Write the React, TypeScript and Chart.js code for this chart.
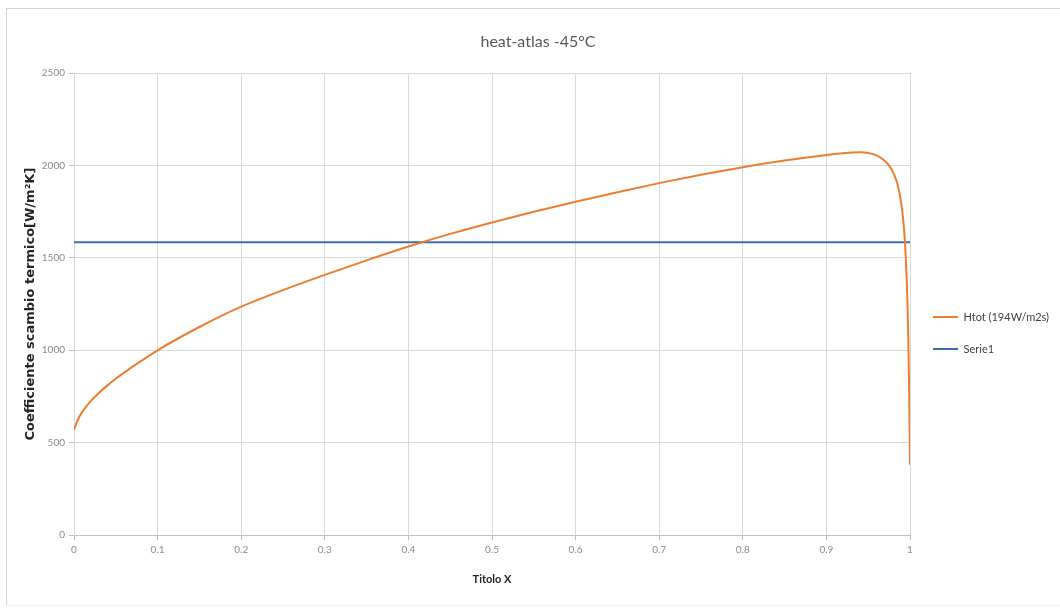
import React, { useEffect, useRef } from "react";
import { Chart, registerables } from "chart.js";

Chart.register(...registerables);

const TITLE = "heat-atlas -45°C";
const X_TITLE = "Titolo X";
const Y_TITLE = "Coefficiente scambio termico[W/m²K]";

const htotLabel = "Htot (194W/m2s)";
const htotX = [0, 0.005, 0.01, 0.02, 0.03, 0.04, 0.05, 0.075, 0.1, 0.15, 0.2, 0.25, 0.3, 0.35, 0.4, 0.45, 0.5, 0.55, 0.6, 0.65, 0.7, 0.75, 0.8, 0.85, 0.9, 0.92, 0.94, 0.95, 0.96, 0.97, 0.975, 0.98, 0.985, 0.99, 0.993, 0.995, 0.997, 0.998, 0.999, 1.0];
const htotY = [570, 628, 668, 725, 770, 810, 846, 926, 1000, 1126, 1236, 1326, 1408, 1487, 1562, 1630, 1692, 1750, 1804, 1856, 1905, 1950, 1991, 2027, 2057, 2067, 2072, 2068, 2055, 2025, 2000, 1960, 1900, 1780, 1650, 1500, 1250, 1050, 780, 380];

const serieLabel = "Serie1";
const serieX = [0, 1];
const serieY = [1585, 1585];

const X_MIN = 0, X_MAX = 1, X_STEP = 0.1;
const Y_MIN = 0, Y_MAX = 2500, Y_STEP = 500;

const LEGEND_W = 150;

const legendFix = {
  id: "legendFix",
  beforeLayout(chart: any) {
    const lg = chart.legend;
    if (lg && !lg._patched) {
      const orig = lg.fit.bind(lg);
      lg.fit = function () {
        orig();
        this.width = LEGEND_W;
      };
      lg._patched = true;
    }
  },
  afterLayout(chart: any) {
    const lg = chart.legend;
    if (lg) {
      lg.top += 22;
      lg.bottom += 22;
      lg.left += 2;
      lg.right += 2;
    }
  },
};

export default function App() {
  const ref = useRef<HTMLCanvasElement | null>(null);
  useEffect(() => {
    if (!ref.current) return;
    const font = "Lato, 'Open Sans', sans-serif";
    const chart = new Chart(ref.current, {
      type: "line",
      data: {
        datasets: [
          {
            label: htotLabel,
            data: htotX.map((x, i) => ({ x, y: htotY[i] })),
            borderColor: "#ED7D31",
            backgroundColor: "#ED7D31",
            borderWidth: 2,
            pointRadius: 0,
            cubicInterpolationMode: "monotone",
            fill: false,
          },
          {
            label: serieLabel,
            data: serieX.map((x, i) => ({ x, y: serieY[i] })),
            borderColor: "#3D6CB5",
            backgroundColor: "#3D6CB5",
            borderWidth: 2,
            pointRadius: 0,
            fill: false,
          },
        ],
      },
      options: {
        animation: false,
        responsive: false,
        maintainAspectRatio: false,
        layout: { padding: { left: 16, right: 0, top: 22, bottom: 10 } },
        plugins: {
          title: {
            display: true,
            text: TITLE,
            color: "#595959",
            font: { family: font, size: 16, weight: "normal" },
            padding: { top: 10, bottom: 22 },
          },
          legend: {
            display: true,
            position: "right",
            align: "center",
            labels: {
              usePointStyle: true,
              pointStyle: "line",
              pointStyleWidth: 25,
              boxHeight: 10,
              padding: 21,
              color: "#404040",
              font: { family: font, size: 11 },
            },
          },
          tooltip: { enabled: false },
        },
        scales: {
          x: {
            type: "linear",
            min: X_MIN,
            max: X_MAX,
            ticks: {
              stepSize: X_STEP,
              color: "#8c8c8c",
              font: { family: font, size: 10 },
              padding: 4,
              callback: (v: any) => String(Number(Number(v).toFixed(1))),
            },
            grid: { color: "#d9d9d9", lineWidth: 1, tickLength: 5, tickColor: "#bfbfbf" },
            border: { color: "#bfbfbf" },
            title: {
              display: true,
              text: X_TITLE,
              color: "#262626",
              font: { family: font, size: 11, weight: "bold" },
              padding: { top: 4, bottom: 14 },
            },
            afterFit: (s: any) => {
              s.height = 65;
            },
          },
          y: {
            type: "linear",
            min: Y_MIN,
            max: Y_MAX,
            ticks: {
              stepSize: Y_STEP,
              color: "#8c8c8c",
              font: { family: font, size: 10 },
              padding: 4,
              callback: (v: any) => String(v),
            },
            grid: { color: "#d9d9d9", lineWidth: 1, tickLength: 5, tickColor: "#bfbfbf" },
            border: { color: "#d9d9d9" },
            title: {
              display: true,
              text: Y_TITLE,
              color: "#262626",
              font: { family: "'DejaVu Sans', sans-serif", size: 13, weight: "bold" },
              padding: { top: 7, bottom: 2 },
            },
            afterFit: (s: any) => {
              s.width = 58;
            },
          },
        },
      },
      plugins: [legendFix],
    } as any);
    return () => chart.destroy();
  }, []);

  return (
    <div style={{ position: "fixed", left: 0, top: 0, width: 1060, height: 610, background: "#fff" }}>
      <div
        style={{
          position: "absolute",
          left: 6,
          top: 8,
          width: 1054,
          height: 598,
          borderTop: "1px solid #d4d4d4",
          borderLeft: "1px solid #d4d4d4",
          borderBottom: "1px solid #f0f0f0",
          boxSizing: "border-box",
        }}
      />
      <canvas ref={ref} width={1060} height={610} style={{ position: "absolute", left: 0, top: 0 }} />
    </div>
  );
}
